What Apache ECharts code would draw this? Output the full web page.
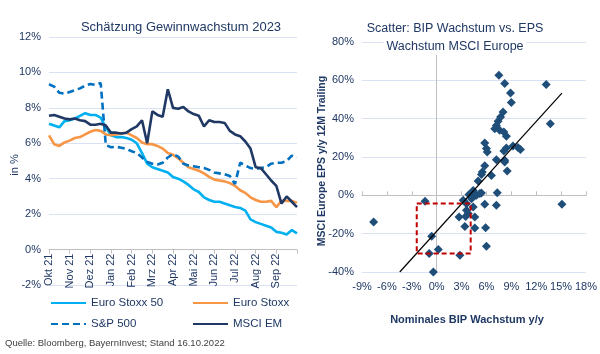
<!DOCTYPE html>
<html>
<head>
<meta charset="utf-8">
<script src="https://cdn.jsdelivr.net/npm/echarts@6/dist/echarts.min.js"></script>
<style>
  html, body { margin: 0; padding: 0; background: #fff; }
  #chart { width: 600px; height: 354px; }
</style>
</head>
<body>
<div id="chart"></div>
<script>
// Linkes Chart: Schätzung Gewinnwachstum 2023 (4 Werte je Monat)
const monthLabels = ['Okt 21', 'Nov 21', 'Dez 21', 'Jan 22', 'Feb 22', 'Mrz 22', 'Apr 22', 'Mai 22', 'Jun 22', 'Jul 22', 'Aug 22', 'Sep 22'];

const euroStoxx50 = [7.1, 7.0, 6.9, 7.25, 7.3, 7.4, 7.55, 7.7, 7.6, 7.6,
  7.45, 6.9, 6.45, 6.35, 6.35, 6.3, 6.2, 6.0, 5.45, 4.85,
  4.65, 4.55, 4.45, 4.35, 4.1, 4.0, 3.85, 3.65, 3.4, 3.25,
  2.95, 2.8, 2.7, 2.7, 2.6, 2.5, 2.4, 2.35, 2.2, 1.7,
  1.55, 1.45, 1.35, 1.25, 1.0, 0.95, 0.85, 1.1, 0.92];

const euroStoxx = [6.45, 5.95, 5.85, 6.05, 6.15, 6.3, 6.35, 6.5, 6.65, 6.75,
  6.7, 6.5, 6.45, 6.5, 6.55, 6.6, 6.45, 6.3, 6.05, 5.95,
  5.95, 5.85, 5.7, 5.45, 5.35, 5.15, 4.9, 4.65, 4.55, 4.45,
  4.3, 4.1, 3.95, 3.9, 3.85, 3.75, 3.6, 3.35, 3.2, 2.95,
  2.8, 2.7, 2.7, 2.75, 2.4, 2.75, 2.75, 2.75, 2.65];

const sp500 = [9.33, 9.2, 8.85, 8.8, 8.9, 9.0, 9.1, 9.25, 9.35, 9.3,
  9.4, 5.9, 5.78, 5.8, 5.75, 5.68, 5.55, 5.45, 5.2, 4.95,
  4.85, 4.8, 4.9, 5.2, 5.4, 5.25, 4.85, 4.75, 4.7, 4.65,
  4.6, 4.5, 4.35, 4.3, 4.25, 4.15, 3.7, 4.9, 4.75, 4.6,
  4.55, 4.6, 4.65, 4.85, 4.9, 4.9, 5.0, 5.3, 5.2];

const msciEm = [7.55, 7.6, 7.5, 7.4, 7.35, 7.4, 7.3, 7.25, 7.05, 7.05,
  7.1, 7.0, 6.6, 6.6, 6.55, 6.6, 6.8, 6.95, 7.3, 6.0,
  7.8, 7.6, 7.5, 9.05, 8.0, 7.95, 8.05, 7.8, 7.65, 7.55,
  6.95, 7.3, 7.2, 7.2, 7.15, 6.7, 6.5, 6.4, 6.1, 5.7,
  4.65, 4.6, 4.25, 3.9, 3.6, 2.6, 3.0, 2.7, 2.4];

// Rechtes Chart: Scatter BIP vs. EPS
const bipGrowth = [7.5, 8.2, 13.2, 8.9, 9.0, 8.0, 7.7, 7.4, 7.2, 7.0, 7.6, 8.1, 8.4, 13.7,
  5.8, 6.0, 6.1, 8.4, 8.1, 9.8, 10.1, 9.2, 7.2, 8.2, 8.2, 8.5, 5.8, 5.5, 5.4, 6.6,
  5.0, 4.4, 5.2, 4.8, 4.5, 5.4, 3.9, 7.3, 5.8, 7.2, 15.1, 3.6, 3.2, 4.2, 4.4, 3.6,
  3.8, 3.5, 2.7, 4.6, 3.4, 4.6, 5.9, 6.0, -1.4, -7.6, -0.6, 0.2, -0.9, 2.8, -0.4];
const epsGrowth = [62.6, 58.3, 57.8, 53.4, 48.4, 43.5, 40.9, 38.6, 36.5, 34.8, 33.9, 33.0, 30.8, 37.4,
  27.3, 24.4, 22.6, 24.7, 23.1, 24.9, 23.9, 25.7, 18.6, 18.3, 17.4, 12.7, 15.4, 12.2, 10.9, 10.4,
  7.5, 2.5, 0.9, 0.0, -0.5, 1.2, 0.5, 1.4, -4.7, -5.2, -4.7, -4.4, -2.6, -1.8, -6.1, -7.8,
  -9.5, -11.0, -11.3, -11.3, -16.2, -17.1, -16.9, -26.6, -3.1, -13.9, -21.4, -28.2, -30.4, -31.3, -40.0];

const trendX = [-4.45, 15.1];
const trendY = [-40, 53.3];

const boxX = [-2.4, 4.1, 4.1, -2.4, -2.4];
const boxY = [-4.2, -4.2, -30.3, -30.3, -4.2];

const xTicksRight = [-9, 18, 3];

const navy = '#1f3864';
const gridColor = '#d9e1f2';
const axisGray = '#bfbfbf';
const font = 'Liberation Sans, Arial, sans-serif';

const categories = [];
monthLabels.forEach(m => {
  for (let k = 0; k < 4; k++) categories.push(k === 0 ? m : m + '#' + k);
});
categories.push('end');

const scatterData = bipGrowth.map((x, i) => [x, epsGrowth[i]]);
const trendData = trendX.map((x, i) => [x, trendY[i]]);
const boxData = boxX.map((x, i) => [x, boxY[i]]);

const chart = echarts.init(document.getElementById('chart'), null, { renderer: 'canvas' });

const legendBase = {
  itemWidth: 35,
  itemHeight: 10,
  itemGap: 5,
  itemStyle: { opacity: 0, borderWidth: 0 },
  textStyle: { color: navy, fontSize: 11.5, fontFamily: font },
  selectedMode: false
};

// Höhe des linken Plots: -2..12 über 248 px, Nulllinie 2 Einheiten über dem Rand
const leftZeroOffset = -(2 / 14) * 248;

const option = {
  animation: false,
  backgroundColor: '#ffffff',
  textStyle: { fontFamily: font },
  graphic: [
    { type: 'text', z: 100, x: 181, y: 27, style: { text: 'Schätzung Gewinnwachstum 2023', fill: navy, font: '13px ' + font, textAlign: 'center', textVerticalAlign: 'middle' } },
    { type: 'text', z: 100, x: 15, y: 165, rotation: Math.PI / 2, style: { text: 'in %', fill: navy, font: '11px ' + font, textAlign: 'center', textVerticalAlign: 'middle' } },
    { type: 'text', z: 100, x: 322, y: 161, rotation: Math.PI / 2, style: { text: 'MSCI Europe EPS y/y 12M Trailing', fill: navy, font: 'bold 10.5px ' + font, textAlign: 'center', textVerticalAlign: 'middle' } },
    { type: 'text', z: 100, x: 455, y: 29, style: { text: 'Scatter: BIP Wachstum vs. EPS', fill: navy, font: '12.5px ' + font, textAlign: 'center', textVerticalAlign: 'middle' } },
    { type: 'text', z: 100, x: 455, y: 47, style: { text: 'Wachstum MSCI Europe', fill: navy, font: '12.5px ' + font, textAlign: 'center', textVerticalAlign: 'middle', backgroundColor: '#ffffff', padding: [1, 3, 2, 3] } },
    { type: 'text', z: 100, x: 5, y: 343, style: { text: 'Quelle: Bloomberg, BayernInvest; Stand 16.10.2022', fill: '#404040', font: '9.5px ' + font, textVerticalAlign: 'middle' } }
  ],
  legend: [
    Object.assign({ left: 45, top: 292, data: ['Euro Stoxx 50'] }, legendBase),
    Object.assign({ left: 187, top: 292, data: ['Euro Stoxx'] }, legendBase),
    Object.assign({ left: 45, top: 313, data: ['S&P 500'] }, legendBase),
    Object.assign({ left: 187, top: 313, data: ['MSCI EM'] }, legendBase)
  ],
  grid: [
    { left: 49, right: 303, top: 37, bottom: 69 },
    { left: 362, right: 13, top: 42, bottom: 82 }
  ],
  xAxis: [
    {
      type: 'category',
      gridIndex: 0,
      data: categories,
      boundaryGap: false,
      offset: leftZeroOffset,
      axisLine: { onZero: false, lineStyle: { color: axisGray } },
      axisTick: { interval: 3, length: 4, lineStyle: { color: axisGray } },
      axisLabel: {
        interval: 3,
        rotate: 90,
        color: navy,
        fontSize: 11,
        margin: 4,
        formatter: v => (v.indexOf('#') < 0 && v !== 'end') ? v : ''
      },
      splitLine: { show: false }
    },
    {
      type: 'value',
      gridIndex: 1,
      min: xTicksRight[0],
      max: xTicksRight[1],
      interval: xTicksRight[2],
      position: 'bottom',
      axisLine: { show: false, onZero: false },
      axisTick: { show: false },
      axisLabel: { color: navy, fontSize: 11, margin: 9, formatter: '{value}%' },
      splitLine: { show: false },
      name: 'Nominales BIP Wachstum y/y',
      nameLocation: 'middle',
      nameGap: 42,
      nameTextStyle: { color: navy, fontWeight: 'bold', fontSize: 11, padding: [0, 14, 0, 0] }
    },
    {
      type: 'value',
      gridIndex: 1,
      min: xTicksRight[0],
      max: xTicksRight[1],
      interval: xTicksRight[2],
      position: 'bottom',
      axisLine: { show: true, onZero: true, lineStyle: { color: axisGray } },
      axisTick: { show: true, inside: true, length: 4, lineStyle: { color: axisGray } },
      axisLabel: { show: false },
      splitLine: { show: false }
    }
  ],
  yAxis: [
    {
      type: 'value',
      gridIndex: 0,
      min: -2,
      max: 12,
      interval: 2,
      axisLine: { show: false },
      axisTick: { show: false },
      axisLabel: { color: navy, fontSize: 11, margin: 8, formatter: '{value}%' },
      splitLine: { lineStyle: { color: gridColor } }
    },
    {
      type: 'value',
      gridIndex: 1,
      min: -40,
      max: 80,
      interval: 20,
      axisLine: { show: false, onZero: false },
      axisTick: { show: false },
      axisLabel: { color: navy, fontSize: 11, margin: 8, formatter: '{value}%' },
      splitLine: { lineStyle: { color: gridColor } }
    },
    {
      type: 'value',
      gridIndex: 1,
      min: -40,
      max: 80,
      interval: 20,
      axisLine: { show: true, onZero: true, lineStyle: { color: axisGray } },
      axisTick: { show: false },
      axisLabel: { show: false },
      splitLine: { show: false }
    }
  ],
  series: [
    {
      name: 'Euro Stoxx 50', type: 'line', xAxisIndex: 0, yAxisIndex: 0,
      data: euroStoxx50, symbol: 'none', color: '#00b0f0',
      lineStyle: { width: 2.6, color: '#00b0f0' }
    },
    {
      name: 'Euro Stoxx', type: 'line', xAxisIndex: 0, yAxisIndex: 0,
      data: euroStoxx, symbol: 'none', color: '#f79646',
      lineStyle: { width: 2.6, color: '#f79646' }
    },
    {
      name: 'S&P 500', type: 'line', xAxisIndex: 0, yAxisIndex: 0,
      data: sp500, symbol: 'none', color: '#0070c0',
      lineStyle: { width: 2.6, color: '#0070c0', type: [7, 4] }
    },
    {
      name: 'MSCI EM', type: 'line', xAxisIndex: 0, yAxisIndex: 0,
      data: msciEm, symbol: 'none', color: '#203864',
      lineStyle: { width: 2.6, color: '#203864' }
    },
    {
      name: 'Scatter', type: 'scatter', xAxisIndex: 1, yAxisIndex: 1,
      data: scatterData, symbol: 'diamond', symbolSize: 9,
      itemStyle: { color: '#1f4e79', opacity: 1 }
    },
    {
      name: 'Trend', type: 'line', xAxisIndex: 1, yAxisIndex: 1,
      data: trendData, symbol: 'none',
      lineStyle: { width: 1.2, color: '#000000' }
    },
    {
      name: 'Box', type: 'line', xAxisIndex: 1, yAxisIndex: 1,
      data: boxData, symbol: 'none',
      lineStyle: { width: 2, color: '#c00000', type: [5, 3] }
    }
  ]
};

chart.setOption(option);
</script>
</body>
</html>
